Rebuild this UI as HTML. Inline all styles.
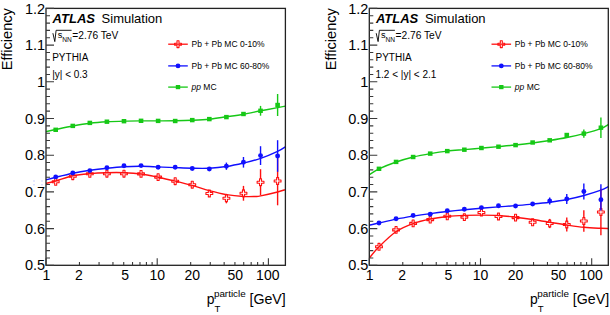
<!DOCTYPE html>
<html><head><meta charset="utf-8"><style>
html,body{margin:0;padding:0;background:#fff;width:610px;height:315px;overflow:hidden}
svg{display:block}
</style></head><body>
<svg width="610" height="315" viewBox="0 0 610 315">
<rect width="610" height="315" fill="#fff"/>
<g fill="#9aa6ff"><rect x="33.5" y="180.5" width="1" height="1"/><rect x="41.5" y="180.5" width="1" height="1"/><rect x="33.5" y="184.3" width="1" height="1"/><rect x="41.5" y="184.3" width="1" height="1"/></g>
<g transform="translate(0,0)">
<path d="M46.00,183.40 C47.62,183.00 51.22,182.27 55.70,181.00 C60.18,179.73 67.18,177.03 72.90,175.80 C78.62,174.57 84.30,174.12 90.00,173.60 C95.70,173.08 101.42,172.85 107.10,172.70 C112.78,172.55 118.42,172.48 124.10,172.70 C129.78,172.92 135.52,173.25 141.20,174.00 C146.88,174.75 152.53,176.02 158.20,177.20 C163.87,178.38 169.55,179.73 175.20,181.10 C180.85,182.47 186.42,183.82 192.10,185.40 C197.78,186.98 203.58,189.07 209.30,190.60 C215.02,192.13 220.68,193.62 226.40,194.60 C232.12,195.58 238.83,196.18 243.60,196.50 C248.37,196.82 252.15,196.60 255.00,196.50 C257.85,196.40 256.93,196.65 260.70,195.90 C264.47,195.15 273.48,193.05 277.60,192.00 C281.72,190.95 284.10,190.00 285.40,189.60" fill="none" stroke="#ff1010" stroke-width="1.4"/>
<path d="M46.00,179.90 C47.62,179.47 51.22,178.42 55.70,177.30 C60.18,176.18 67.18,174.37 72.90,173.20 C78.62,172.03 84.30,171.13 90.00,170.30 C95.70,169.47 101.42,168.80 107.10,168.20 C112.78,167.60 118.42,167.02 124.10,166.70 C129.78,166.38 135.52,166.27 141.20,166.30 C146.88,166.33 152.53,166.68 158.20,166.90 C163.87,167.12 169.55,167.38 175.20,167.60 C180.85,167.82 186.42,168.10 192.10,168.20 C197.78,168.30 203.58,168.48 209.30,168.20 C215.02,167.92 220.68,167.37 226.40,166.50 C232.12,165.63 237.88,164.35 243.60,163.00 C249.32,161.65 255.03,160.33 260.70,158.40 C266.37,156.47 273.48,153.33 277.60,151.40 C281.72,149.47 284.10,147.57 285.40,146.80" fill="none" stroke="#1010ff" stroke-width="1.4"/>
<path d="M46.00,131.60 C47.62,131.25 51.22,130.43 55.70,129.50 C60.18,128.57 67.18,127.03 72.90,126.00 C78.62,124.97 84.30,124.00 90.00,123.30 C95.70,122.60 101.42,122.17 107.10,121.80 C112.78,121.43 118.42,121.25 124.10,121.10 C129.78,120.95 135.52,120.93 141.20,120.90 C146.88,120.87 152.53,120.92 158.20,120.90 C163.87,120.88 169.55,120.90 175.20,120.80 C180.85,120.70 186.42,120.57 192.10,120.30 C197.78,120.03 203.58,119.78 209.30,119.20 C215.02,118.62 220.68,117.63 226.40,116.80 C232.12,115.97 237.88,115.20 243.60,114.20 C249.32,113.20 255.03,111.90 260.70,110.80 C266.37,109.70 273.48,108.38 277.60,107.60 C281.72,106.82 284.10,106.35 285.40,106.10" fill="none" stroke="#16c816" stroke-width="1.4"/>
<path d="M54.70,178.40H56.70V180.80H59.10V182.80H56.70V185.20H54.70V182.80H52.30V180.80H54.70Z" fill="none" stroke="#ff1010" stroke-width="1.1" stroke-linejoin="round"/>
<path d="M71.77,172.80H73.77V175.20H76.17V177.20H73.77V179.60H71.77V177.20H69.37V175.20H71.77Z" fill="none" stroke="#ff1010" stroke-width="1.1" stroke-linejoin="round"/>
<path d="M88.84,170.40H90.84V172.80H93.24V174.80H90.84V177.20H88.84V174.80H86.44V172.80H88.84Z" fill="none" stroke="#ff1010" stroke-width="1.1" stroke-linejoin="round"/>
<path d="M105.91,170.30H107.91V172.70H110.31V174.70H107.91V177.10H105.91V174.70H103.51V172.70H105.91Z" fill="none" stroke="#ff1010" stroke-width="1.1" stroke-linejoin="round"/>
<path d="M122.98,170.30H124.98V172.70H127.38V174.70H124.98V177.10H122.98V174.70H120.58V172.70H122.98Z" fill="none" stroke="#ff1010" stroke-width="1.1" stroke-linejoin="round"/>
<path d="M140.05,170.50H142.05V172.90H144.45V174.90H142.05V177.30H140.05V174.90H137.65V172.90H140.05Z" fill="none" stroke="#ff1010" stroke-width="1.1" stroke-linejoin="round"/>
<path d="M157.12,173.70H159.12V176.10H161.52V178.10H159.12V180.50H157.12V178.10H154.72V176.10H157.12Z" fill="none" stroke="#ff1010" stroke-width="1.1" stroke-linejoin="round"/>
<path d="M174.19,177.80H176.19V180.20H178.59V182.20H176.19V184.60H174.19V182.20H171.79V180.20H174.19Z" fill="none" stroke="#ff1010" stroke-width="1.1" stroke-linejoin="round"/>
<path d="M191.26,181.30H193.26V183.70H195.66V185.70H193.26V188.10H191.26V185.70H188.86V183.70H191.26Z" fill="none" stroke="#ff1010" stroke-width="1.1" stroke-linejoin="round"/>
<path d="M208.33,190.10H210.33V192.50H212.73V194.50H210.33V196.90H208.33V194.50H205.93V192.50H208.33Z" fill="none" stroke="#ff1010" stroke-width="1.1" stroke-linejoin="round"/>
<line x1="226.40" y1="193.80" x2="226.40" y2="195.20" stroke="#ff1010" stroke-width="1.4"/>
<line x1="226.40" y1="201.20" x2="226.40" y2="203.30" stroke="#ff1010" stroke-width="1.4"/>
<path d="M225.40,194.80H227.40V197.20H229.80V199.20H227.40V201.60H225.40V199.20H223.00V197.20H225.40Z" fill="none" stroke="#ff1010" stroke-width="1.1" stroke-linejoin="round"/>
<line x1="243.47" y1="185.90" x2="243.47" y2="190.30" stroke="#ff1010" stroke-width="1.4"/>
<line x1="243.47" y1="196.30" x2="243.47" y2="200.70" stroke="#ff1010" stroke-width="1.4"/>
<path d="M242.47,189.90H244.47V192.30H246.87V194.30H244.47V196.70H242.47V194.30H240.07V192.30H242.47Z" fill="none" stroke="#ff1010" stroke-width="1.1" stroke-linejoin="round"/>
<line x1="260.54" y1="169.20" x2="260.54" y2="179.20" stroke="#ff1010" stroke-width="1.4"/>
<line x1="260.54" y1="185.20" x2="260.54" y2="195.20" stroke="#ff1010" stroke-width="1.4"/>
<path d="M259.54,178.80H261.54V181.20H263.94V183.20H261.54V185.60H259.54V183.20H257.14V181.20H259.54Z" fill="none" stroke="#ff1010" stroke-width="1.1" stroke-linejoin="round"/>
<line x1="277.61" y1="156.70" x2="277.61" y2="178.00" stroke="#ff1010" stroke-width="1.4"/>
<line x1="277.61" y1="184.00" x2="277.61" y2="205.30" stroke="#ff1010" stroke-width="1.4"/>
<path d="M276.61,177.60H278.61V180.00H281.01V182.00H278.61V184.40H276.61V182.00H274.21V180.00H276.61Z" fill="none" stroke="#ff1010" stroke-width="1.1" stroke-linejoin="round"/>
<circle cx="55.70" cy="176.90" r="2.45" fill="#1010ff"/>
<circle cx="72.77" cy="173.00" r="2.45" fill="#1010ff"/>
<circle cx="89.84" cy="170.60" r="2.45" fill="#1010ff"/>
<circle cx="106.91" cy="167.80" r="2.45" fill="#1010ff"/>
<circle cx="123.98" cy="165.80" r="2.45" fill="#1010ff"/>
<circle cx="141.05" cy="165.60" r="2.45" fill="#1010ff"/>
<circle cx="158.12" cy="167.30" r="2.45" fill="#1010ff"/>
<circle cx="175.19" cy="167.20" r="2.45" fill="#1010ff"/>
<circle cx="192.26" cy="168.50" r="2.45" fill="#1010ff"/>
<line x1="209.33" y1="167.00" x2="209.33" y2="169.00" stroke="#1010ff" stroke-width="1.4"/>
<line x1="209.33" y1="169.00" x2="209.33" y2="171.00" stroke="#1010ff" stroke-width="1.4"/>
<circle cx="209.33" cy="169.00" r="2.45" fill="#1010ff"/>
<line x1="226.40" y1="162.60" x2="226.40" y2="166.20" stroke="#1010ff" stroke-width="1.4"/>
<line x1="226.40" y1="166.20" x2="226.40" y2="169.80" stroke="#1010ff" stroke-width="1.4"/>
<circle cx="226.40" cy="166.20" r="2.45" fill="#1010ff"/>
<line x1="243.47" y1="157.00" x2="243.47" y2="162.30" stroke="#1010ff" stroke-width="1.4"/>
<line x1="243.47" y1="162.30" x2="243.47" y2="167.60" stroke="#1010ff" stroke-width="1.4"/>
<circle cx="243.47" cy="162.30" r="2.45" fill="#1010ff"/>
<line x1="260.54" y1="146.20" x2="260.54" y2="155.60" stroke="#1010ff" stroke-width="1.4"/>
<line x1="260.54" y1="155.60" x2="260.54" y2="165.00" stroke="#1010ff" stroke-width="1.4"/>
<circle cx="260.54" cy="155.60" r="2.45" fill="#1010ff"/>
<line x1="277.61" y1="140.20" x2="277.61" y2="156.00" stroke="#1010ff" stroke-width="1.4"/>
<line x1="277.61" y1="156.00" x2="277.61" y2="171.80" stroke="#1010ff" stroke-width="1.4"/>
<circle cx="277.61" cy="156.00" r="2.45" fill="#1010ff"/>
<rect x="53.40" y="127.60" width="4.6" height="4.4" fill="#16c816"/>
<rect x="70.47" y="123.70" width="4.6" height="4.4" fill="#16c816"/>
<rect x="87.54" y="120.70" width="4.6" height="4.4" fill="#16c816"/>
<rect x="104.61" y="119.50" width="4.6" height="4.4" fill="#16c816"/>
<rect x="121.68" y="119.00" width="4.6" height="4.4" fill="#16c816"/>
<rect x="138.75" y="118.60" width="4.6" height="4.4" fill="#16c816"/>
<rect x="155.82" y="118.70" width="4.6" height="4.4" fill="#16c816"/>
<rect x="172.89" y="118.80" width="4.6" height="4.4" fill="#16c816"/>
<rect x="189.96" y="117.90" width="4.6" height="4.4" fill="#16c816"/>
<rect x="207.03" y="116.90" width="4.6" height="4.4" fill="#16c816"/>
<rect x="224.10" y="114.90" width="4.6" height="4.4" fill="#16c816"/>
<line x1="243.47" y1="112.00" x2="243.47" y2="114.00" stroke="#16c816" stroke-width="1.4"/>
<line x1="243.47" y1="114.00" x2="243.47" y2="116.00" stroke="#16c816" stroke-width="1.4"/>
<rect x="241.17" y="111.80" width="4.6" height="4.4" fill="#16c816"/>
<line x1="260.54" y1="105.90" x2="260.54" y2="110.80" stroke="#16c816" stroke-width="1.4"/>
<line x1="260.54" y1="110.80" x2="260.54" y2="115.70" stroke="#16c816" stroke-width="1.4"/>
<rect x="258.24" y="108.60" width="4.6" height="4.4" fill="#16c816"/>
<line x1="277.61" y1="94.00" x2="277.61" y2="105.00" stroke="#16c816" stroke-width="1.4"/>
<line x1="277.61" y1="105.00" x2="277.61" y2="116.00" stroke="#16c816" stroke-width="1.4"/>
<rect x="275.31" y="102.80" width="4.6" height="4.4" fill="#16c816"/>
<rect x="46.0" y="8.4" width="239.40" height="256.90" fill="none" stroke="#222" stroke-width="1.3"/>
<path d="M46.0,265.30h8 M46.0,257.96h4 M46.0,250.62h4 M46.0,243.28h4 M46.0,235.94h4 M46.0,228.60h8 M46.0,221.26h4 M46.0,213.92h4 M46.0,206.58h4 M46.0,199.24h4 M46.0,191.90h8 M46.0,184.56h4 M46.0,177.22h4 M46.0,169.88h4 M46.0,162.54h4 M46.0,155.20h8 M46.0,147.86h4 M46.0,140.52h4 M46.0,133.18h4 M46.0,125.84h4 M46.0,118.50h8 M46.0,111.16h4 M46.0,103.82h4 M46.0,96.48h4 M46.0,89.14h4 M46.0,81.80h8 M46.0,74.46h4 M46.0,67.12h4 M46.0,59.78h4 M46.0,52.44h4 M46.0,45.10h8 M46.0,37.76h4 M46.0,30.42h4 M46.0,23.08h4 M46.0,15.74h4 M46.0,8.40h8 M46.00,265.3v-7.0 M79.47,265.3v-3.4 M99.06,265.3v-3.4 M112.95,265.3v-3.4 M123.73,265.3v-3.4 M132.53,265.3v-3.4 M139.97,265.3v-3.4 M146.42,265.3v-3.4 M152.11,265.3v-3.4 M157.20,265.3v-7.0 M190.67,265.3v-3.4 M210.26,265.3v-3.4 M224.15,265.3v-3.4 M234.93,265.3v-3.4 M243.73,265.3v-3.4 M251.17,265.3v-3.4 M257.62,265.3v-3.4 M263.31,265.3v-3.4 M268.40,265.3v-7.0" stroke="#3a3a3a" stroke-width="1.1" fill="none"/>
<text x="45.1" y="270.40" font-size="14.5" text-anchor="end" font-family="'Liberation Sans', sans-serif">0.5</text>
<text x="45.1" y="233.70" font-size="14.5" text-anchor="end" font-family="'Liberation Sans', sans-serif">0.6</text>
<text x="45.1" y="197.00" font-size="14.5" text-anchor="end" font-family="'Liberation Sans', sans-serif">0.7</text>
<text x="45.1" y="160.30" font-size="14.5" text-anchor="end" font-family="'Liberation Sans', sans-serif">0.8</text>
<text x="45.1" y="123.60" font-size="14.5" text-anchor="end" font-family="'Liberation Sans', sans-serif">0.9</text>
<text x="45.1" y="86.90" font-size="14.5" text-anchor="end" font-family="'Liberation Sans', sans-serif">1</text>
<text x="45.1" y="50.20" font-size="14.5" text-anchor="end" font-family="'Liberation Sans', sans-serif">1.1</text>
<text x="45.1" y="13.50" font-size="14.5" text-anchor="end" font-family="'Liberation Sans', sans-serif">1.2</text>
<text x="46.40" y="280" font-size="14" text-anchor="middle" font-family="'Liberation Sans', sans-serif">1</text>
<text x="78.87" y="280" font-size="14" text-anchor="middle" font-family="'Liberation Sans', sans-serif">2</text>
<text x="125.03" y="280" font-size="14" text-anchor="middle" font-family="'Liberation Sans', sans-serif">5</text>
<text x="157.20" y="280" font-size="14" text-anchor="middle" font-family="'Liberation Sans', sans-serif">10</text>
<text x="192.17" y="280" font-size="14" text-anchor="middle" font-family="'Liberation Sans', sans-serif">20</text>
<text x="235.23" y="280" font-size="14" text-anchor="middle" font-family="'Liberation Sans', sans-serif">50</text>
<text x="267.80" y="280" font-size="14" text-anchor="middle" font-family="'Liberation Sans', sans-serif">100</text>
<text transform="translate(12.2,70.3) rotate(-90)" font-size="14.6" font-family="'Liberation Sans', sans-serif">Efficiency</text>
<text x="206.8" y="303.9" font-size="13.9" font-family="'Liberation Sans', sans-serif">p</text>
<text x="213.9" y="297.2" font-size="9.9" font-family="'Liberation Sans', sans-serif">particle</text>
<text x="214.5" y="311.9" font-size="9.6" font-family="'Liberation Sans', sans-serif">T</text>
<text x="249.5" y="304.1" font-size="14.2" font-family="'Liberation Sans', sans-serif">[GeV]</text>
<text x="52.6" y="23.3" font-size="13" font-weight="bold" font-style="italic" font-family="'Liberation Sans', sans-serif">ATLAS</text>
<text x="101.6" y="23.4" font-size="13" font-family="'Liberation Sans', sans-serif">Simulation</text>
<path d="M52.9,33.2 L54.8,41.6 L56.1,30.3 H71.6" fill="none" stroke="#000" stroke-width="0.9"/>
<text x="57.8" y="38.3" font-size="9.2" font-family="'Liberation Sans', sans-serif">s</text>
<text x="62.2" y="41.6" font-size="6.6" font-family="'Liberation Sans', sans-serif">NN</text>
<text x="72.3" y="39.4" font-size="10.2" font-family="'Liberation Sans', sans-serif">=2.76 TeV</text>
<text x="52.2" y="60.8" font-size="10" font-family="'Liberation Sans', sans-serif">PYTHIA</text>
<text x="52.2" y="77.6" font-size="10" font-family="'Liberation Sans', sans-serif">|y| &lt; 0.3</text>
<line x1="168.2" y1="44.2" x2="187.8" y2="44.2" stroke="#ff1010" stroke-width="1.3"/>
<path d="M177.00,40.80H179.00V43.20H181.40V45.20H179.00V47.60H177.00V45.20H174.60V43.20H177.00Z" fill="none" stroke="#ff1010" stroke-width="1.1" stroke-linejoin="round"/>
<text x="191.5" y="47.20" font-size="8.5" font-family="'Liberation Sans', sans-serif">Pb + Pb MC 0-10%</text>
<line x1="168.2" y1="65.9" x2="187.8" y2="65.9" stroke="#1010ff" stroke-width="1.3"/>
<circle cx="178.0" cy="65.9" r="2.4" fill="#1010ff"/>
<text x="191.5" y="68.90" font-size="8.5" font-family="'Liberation Sans', sans-serif">Pb + Pb MC 60-80%</text>
<line x1="168.2" y1="87.1" x2="187.8" y2="87.1" stroke="#16c816" stroke-width="1.3"/>
<rect x="175.8" y="85.0" width="4.4" height="4.2" fill="#16c816"/>
<text x="191.5" y="90.10" font-size="8.5" font-family="'Liberation Sans', sans-serif"><tspan font-style="italic">pp</tspan> MC</text>
</g>
<g transform="translate(323.3,0)">
<path d="M46.00,258.00 C47.62,256.13 51.22,251.22 55.70,246.80 C60.18,242.38 67.18,235.38 72.90,231.50 C78.62,227.62 84.30,225.58 90.00,223.50 C95.70,221.42 101.42,220.17 107.10,219.00 C112.78,217.83 118.42,217.10 124.10,216.50 C129.78,215.90 135.52,215.63 141.20,215.40 C146.88,215.17 152.53,215.08 158.20,215.10 C163.87,215.12 169.55,215.15 175.20,215.50 C180.85,215.85 186.42,216.53 192.10,217.20 C197.78,217.87 203.58,218.67 209.30,219.50 C215.02,220.33 220.68,221.28 226.40,222.20 C232.12,223.12 237.88,224.15 243.60,225.00 C249.32,225.85 255.03,226.75 260.70,227.30 C266.37,227.85 273.48,228.10 277.60,228.30 C281.72,228.50 284.10,228.47 285.40,228.50" fill="none" stroke="#ff1010" stroke-width="1.4"/>
<path d="M46.00,225.30 C47.62,224.92 51.22,224.03 55.70,223.00 C60.18,221.97 67.18,220.25 72.90,219.10 C78.62,217.95 84.30,217.02 90.00,216.10 C95.70,215.18 101.42,214.37 107.10,213.60 C112.78,212.83 118.42,212.15 124.10,211.50 C129.78,210.85 135.52,210.25 141.20,209.70 C146.88,209.15 152.53,208.67 158.20,208.20 C163.87,207.73 169.55,207.33 175.20,206.90 C180.85,206.47 186.42,206.07 192.10,205.60 C197.78,205.13 203.58,204.67 209.30,204.10 C215.02,203.53 220.68,202.97 226.40,202.20 C232.12,201.43 237.88,200.62 243.60,199.50 C249.32,198.38 255.03,197.05 260.70,195.50 C266.37,193.95 273.48,191.70 277.60,190.20 C281.72,188.70 284.10,187.12 285.40,186.50" fill="none" stroke="#1010ff" stroke-width="1.4"/>
<path d="M46.00,174.70 C47.62,173.73 51.22,171.02 55.70,168.90 C60.18,166.78 67.18,163.98 72.90,162.00 C78.62,160.02 84.30,158.40 90.00,157.00 C95.70,155.60 101.42,154.58 107.10,153.60 C112.78,152.62 118.42,151.77 124.10,151.10 C129.78,150.43 135.52,150.10 141.20,149.60 C146.88,149.10 152.53,148.60 158.20,148.10 C163.87,147.60 169.55,147.12 175.20,146.60 C180.85,146.08 186.42,145.60 192.10,145.00 C197.78,144.40 203.58,143.75 209.30,143.00 C215.02,142.25 220.68,141.42 226.40,140.50 C232.12,139.58 237.88,138.65 243.60,137.50 C249.32,136.35 255.03,135.08 260.70,133.60 C266.37,132.12 273.48,130.15 277.60,128.60 C281.72,127.05 284.10,125.02 285.40,124.30" fill="none" stroke="#16c816" stroke-width="1.4"/>
<path d="M54.70,243.40H56.70V245.80H59.10V247.80H56.70V250.20H54.70V247.80H52.30V245.80H54.70Z" fill="none" stroke="#ff1010" stroke-width="1.1" stroke-linejoin="round"/>
<path d="M71.77,226.50H73.77V228.90H76.17V230.90H73.77V233.30H71.77V230.90H69.37V228.90H71.77Z" fill="none" stroke="#ff1010" stroke-width="1.1" stroke-linejoin="round"/>
<path d="M88.84,220.00H90.84V222.40H93.24V224.40H90.84V226.80H88.84V224.40H86.44V222.40H88.84Z" fill="none" stroke="#ff1010" stroke-width="1.1" stroke-linejoin="round"/>
<path d="M105.91,216.20H107.91V218.60H110.31V220.60H107.91V223.00H105.91V220.60H103.51V218.60H105.91Z" fill="none" stroke="#ff1010" stroke-width="1.1" stroke-linejoin="round"/>
<path d="M122.98,212.90H124.98V215.30H127.38V217.30H124.98V219.70H122.98V217.30H120.58V215.30H122.98Z" fill="none" stroke="#ff1010" stroke-width="1.1" stroke-linejoin="round"/>
<path d="M140.05,213.70H142.05V216.10H144.45V218.10H142.05V220.50H140.05V218.10H137.65V216.10H140.05Z" fill="none" stroke="#ff1010" stroke-width="1.1" stroke-linejoin="round"/>
<path d="M157.12,209.10H159.12V211.50H161.52V213.50H159.12V215.90H157.12V213.50H154.72V211.50H157.12Z" fill="none" stroke="#ff1010" stroke-width="1.1" stroke-linejoin="round"/>
<path d="M174.19,213.10H176.19V215.50H178.59V217.50H176.19V219.90H174.19V217.50H171.79V215.50H174.19Z" fill="none" stroke="#ff1010" stroke-width="1.1" stroke-linejoin="round"/>
<path d="M191.26,214.20H193.26V216.60H195.66V218.60H193.26V221.00H191.26V218.60H188.86V216.60H191.26Z" fill="none" stroke="#ff1010" stroke-width="1.1" stroke-linejoin="round"/>
<path d="M208.33,218.90H210.33V221.30H212.73V223.30H210.33V225.70H208.33V223.30H205.93V221.30H208.33Z" fill="none" stroke="#ff1010" stroke-width="1.1" stroke-linejoin="round"/>
<line x1="226.40" y1="218.90" x2="226.40" y2="220.50" stroke="#ff1010" stroke-width="1.4"/>
<line x1="226.40" y1="226.50" x2="226.40" y2="228.10" stroke="#ff1010" stroke-width="1.4"/>
<path d="M225.40,220.10H227.40V222.50H229.80V224.50H227.40V226.90H225.40V224.50H223.00V222.50H225.40Z" fill="none" stroke="#ff1010" stroke-width="1.1" stroke-linejoin="round"/>
<line x1="243.47" y1="217.60" x2="243.47" y2="221.50" stroke="#ff1010" stroke-width="1.4"/>
<line x1="243.47" y1="227.50" x2="243.47" y2="231.40" stroke="#ff1010" stroke-width="1.4"/>
<path d="M242.47,221.10H244.47V223.50H246.87V225.50H244.47V227.90H242.47V225.50H240.07V223.50H242.47Z" fill="none" stroke="#ff1010" stroke-width="1.1" stroke-linejoin="round"/>
<line x1="260.54" y1="210.20" x2="260.54" y2="218.00" stroke="#ff1010" stroke-width="1.4"/>
<line x1="260.54" y1="224.00" x2="260.54" y2="231.80" stroke="#ff1010" stroke-width="1.4"/>
<path d="M259.54,217.60H261.54V220.00H263.94V222.00H261.54V224.40H259.54V222.00H257.14V220.00H259.54Z" fill="none" stroke="#ff1010" stroke-width="1.1" stroke-linejoin="round"/>
<line x1="277.61" y1="188.80" x2="277.61" y2="209.00" stroke="#ff1010" stroke-width="1.4"/>
<line x1="277.61" y1="215.00" x2="277.61" y2="235.20" stroke="#ff1010" stroke-width="1.4"/>
<path d="M276.61,208.60H278.61V211.00H281.01V213.00H278.61V215.40H276.61V213.00H274.21V211.00H276.61Z" fill="none" stroke="#ff1010" stroke-width="1.1" stroke-linejoin="round"/>
<circle cx="55.70" cy="223.00" r="2.45" fill="#1010ff"/>
<circle cx="72.77" cy="218.80" r="2.45" fill="#1010ff"/>
<circle cx="89.84" cy="215.50" r="2.45" fill="#1010ff"/>
<circle cx="106.91" cy="214.20" r="2.45" fill="#1010ff"/>
<circle cx="123.98" cy="210.80" r="2.45" fill="#1010ff"/>
<circle cx="141.05" cy="209.30" r="2.45" fill="#1010ff"/>
<circle cx="158.12" cy="207.60" r="2.45" fill="#1010ff"/>
<circle cx="175.19" cy="205.80" r="2.45" fill="#1010ff"/>
<circle cx="192.26" cy="206.00" r="2.45" fill="#1010ff"/>
<circle cx="209.33" cy="204.00" r="2.45" fill="#1010ff"/>
<line x1="226.40" y1="197.50" x2="226.40" y2="201.00" stroke="#1010ff" stroke-width="1.4"/>
<line x1="226.40" y1="201.00" x2="226.40" y2="204.50" stroke="#1010ff" stroke-width="1.4"/>
<circle cx="226.40" cy="201.00" r="2.45" fill="#1010ff"/>
<line x1="243.47" y1="194.00" x2="243.47" y2="199.00" stroke="#1010ff" stroke-width="1.4"/>
<line x1="243.47" y1="199.00" x2="243.47" y2="204.00" stroke="#1010ff" stroke-width="1.4"/>
<circle cx="243.47" cy="199.00" r="2.45" fill="#1010ff"/>
<line x1="260.54" y1="183.50" x2="260.54" y2="191.50" stroke="#1010ff" stroke-width="1.4"/>
<line x1="260.54" y1="191.50" x2="260.54" y2="199.50" stroke="#1010ff" stroke-width="1.4"/>
<circle cx="260.54" cy="191.50" r="2.45" fill="#1010ff"/>
<line x1="277.61" y1="184.30" x2="277.61" y2="199.70" stroke="#1010ff" stroke-width="1.4"/>
<line x1="277.61" y1="199.70" x2="277.61" y2="210.60" stroke="#1010ff" stroke-width="1.4"/>
<circle cx="277.61" cy="199.70" r="2.45" fill="#1010ff"/>
<rect x="53.40" y="166.60" width="4.6" height="4.4" fill="#16c816"/>
<rect x="70.47" y="159.70" width="4.6" height="4.4" fill="#16c816"/>
<rect x="87.54" y="154.80" width="4.6" height="4.4" fill="#16c816"/>
<rect x="104.61" y="151.40" width="4.6" height="4.4" fill="#16c816"/>
<rect x="121.68" y="148.90" width="4.6" height="4.4" fill="#16c816"/>
<rect x="138.75" y="147.50" width="4.6" height="4.4" fill="#16c816"/>
<rect x="155.82" y="145.80" width="4.6" height="4.4" fill="#16c816"/>
<rect x="172.89" y="144.50" width="4.6" height="4.4" fill="#16c816"/>
<rect x="189.96" y="142.90" width="4.6" height="4.4" fill="#16c816"/>
<rect x="207.03" y="140.30" width="4.6" height="4.4" fill="#16c816"/>
<rect x="224.10" y="138.10" width="4.6" height="4.4" fill="#16c816"/>
<line x1="243.47" y1="133.50" x2="243.47" y2="135.00" stroke="#16c816" stroke-width="1.4"/>
<line x1="243.47" y1="135.00" x2="243.47" y2="136.50" stroke="#16c816" stroke-width="1.4"/>
<rect x="241.17" y="132.80" width="4.6" height="4.4" fill="#16c816"/>
<line x1="260.54" y1="129.50" x2="260.54" y2="133.60" stroke="#16c816" stroke-width="1.4"/>
<line x1="260.54" y1="133.60" x2="260.54" y2="137.70" stroke="#16c816" stroke-width="1.4"/>
<rect x="258.24" y="131.40" width="4.6" height="4.4" fill="#16c816"/>
<line x1="277.61" y1="117.50" x2="277.61" y2="127.70" stroke="#16c816" stroke-width="1.4"/>
<line x1="277.61" y1="127.70" x2="277.61" y2="137.90" stroke="#16c816" stroke-width="1.4"/>
<rect x="275.31" y="125.50" width="4.6" height="4.4" fill="#16c816"/>
<rect x="46.0" y="8.4" width="239.00" height="256.90" fill="none" stroke="#222" stroke-width="1.3"/>
<path d="M46.0,265.30h8 M46.0,257.96h4 M46.0,250.62h4 M46.0,243.28h4 M46.0,235.94h4 M46.0,228.60h8 M46.0,221.26h4 M46.0,213.92h4 M46.0,206.58h4 M46.0,199.24h4 M46.0,191.90h8 M46.0,184.56h4 M46.0,177.22h4 M46.0,169.88h4 M46.0,162.54h4 M46.0,155.20h8 M46.0,147.86h4 M46.0,140.52h4 M46.0,133.18h4 M46.0,125.84h4 M46.0,118.50h8 M46.0,111.16h4 M46.0,103.82h4 M46.0,96.48h4 M46.0,89.14h4 M46.0,81.80h8 M46.0,74.46h4 M46.0,67.12h4 M46.0,59.78h4 M46.0,52.44h4 M46.0,45.10h8 M46.0,37.76h4 M46.0,30.42h4 M46.0,23.08h4 M46.0,15.74h4 M46.0,8.40h8 M46.00,265.3v-7.0 M79.47,265.3v-3.4 M99.06,265.3v-3.4 M112.95,265.3v-3.4 M123.73,265.3v-3.4 M132.53,265.3v-3.4 M139.97,265.3v-3.4 M146.42,265.3v-3.4 M152.11,265.3v-3.4 M157.20,265.3v-7.0 M190.67,265.3v-3.4 M210.26,265.3v-3.4 M224.15,265.3v-3.4 M234.93,265.3v-3.4 M243.73,265.3v-3.4 M251.17,265.3v-3.4 M257.62,265.3v-3.4 M263.31,265.3v-3.4 M268.40,265.3v-7.0" stroke="#3a3a3a" stroke-width="1.1" fill="none"/>
<text x="45.1" y="270.40" font-size="14.5" text-anchor="end" font-family="'Liberation Sans', sans-serif">0.5</text>
<text x="45.1" y="233.70" font-size="14.5" text-anchor="end" font-family="'Liberation Sans', sans-serif">0.6</text>
<text x="45.1" y="197.00" font-size="14.5" text-anchor="end" font-family="'Liberation Sans', sans-serif">0.7</text>
<text x="45.1" y="160.30" font-size="14.5" text-anchor="end" font-family="'Liberation Sans', sans-serif">0.8</text>
<text x="45.1" y="123.60" font-size="14.5" text-anchor="end" font-family="'Liberation Sans', sans-serif">0.9</text>
<text x="45.1" y="86.90" font-size="14.5" text-anchor="end" font-family="'Liberation Sans', sans-serif">1</text>
<text x="45.1" y="50.20" font-size="14.5" text-anchor="end" font-family="'Liberation Sans', sans-serif">1.1</text>
<text x="45.1" y="13.50" font-size="14.5" text-anchor="end" font-family="'Liberation Sans', sans-serif">1.2</text>
<text x="46.40" y="280" font-size="14" text-anchor="middle" font-family="'Liberation Sans', sans-serif">1</text>
<text x="78.87" y="280" font-size="14" text-anchor="middle" font-family="'Liberation Sans', sans-serif">2</text>
<text x="125.03" y="280" font-size="14" text-anchor="middle" font-family="'Liberation Sans', sans-serif">5</text>
<text x="157.20" y="280" font-size="14" text-anchor="middle" font-family="'Liberation Sans', sans-serif">10</text>
<text x="192.17" y="280" font-size="14" text-anchor="middle" font-family="'Liberation Sans', sans-serif">20</text>
<text x="235.23" y="280" font-size="14" text-anchor="middle" font-family="'Liberation Sans', sans-serif">50</text>
<text x="267.80" y="280" font-size="14" text-anchor="middle" font-family="'Liberation Sans', sans-serif">100</text>
<text transform="translate(12.2,70.3) rotate(-90)" font-size="14.6" font-family="'Liberation Sans', sans-serif">Efficiency</text>
<text x="206.8" y="303.9" font-size="13.9" font-family="'Liberation Sans', sans-serif">p</text>
<text x="213.9" y="297.2" font-size="9.9" font-family="'Liberation Sans', sans-serif">particle</text>
<text x="214.5" y="311.9" font-size="9.6" font-family="'Liberation Sans', sans-serif">T</text>
<text x="249.5" y="304.1" font-size="14.2" font-family="'Liberation Sans', sans-serif">[GeV]</text>
<text x="52.6" y="23.3" font-size="13" font-weight="bold" font-style="italic" font-family="'Liberation Sans', sans-serif">ATLAS</text>
<text x="101.6" y="23.4" font-size="13" font-family="'Liberation Sans', sans-serif">Simulation</text>
<path d="M52.9,33.2 L54.8,41.6 L56.1,30.3 H71.6" fill="none" stroke="#000" stroke-width="0.9"/>
<text x="57.8" y="38.3" font-size="9.2" font-family="'Liberation Sans', sans-serif">s</text>
<text x="62.2" y="41.6" font-size="6.6" font-family="'Liberation Sans', sans-serif">NN</text>
<text x="72.3" y="39.4" font-size="10.2" font-family="'Liberation Sans', sans-serif">=2.76 TeV</text>
<text x="52.2" y="60.8" font-size="10" font-family="'Liberation Sans', sans-serif">PYTHIA</text>
<text x="52.2" y="77.6" font-size="10" font-family="'Liberation Sans', sans-serif">1.2 &lt; |y| &lt; 2.1</text>
<line x1="168.2" y1="44.2" x2="187.8" y2="44.2" stroke="#ff1010" stroke-width="1.3"/>
<path d="M177.00,40.80H179.00V43.20H181.40V45.20H179.00V47.60H177.00V45.20H174.60V43.20H177.00Z" fill="none" stroke="#ff1010" stroke-width="1.1" stroke-linejoin="round"/>
<text x="191.5" y="47.20" font-size="8.5" font-family="'Liberation Sans', sans-serif">Pb + Pb MC 0-10%</text>
<line x1="168.2" y1="65.9" x2="187.8" y2="65.9" stroke="#1010ff" stroke-width="1.3"/>
<circle cx="178.0" cy="65.9" r="2.4" fill="#1010ff"/>
<text x="191.5" y="68.90" font-size="8.5" font-family="'Liberation Sans', sans-serif">Pb + Pb MC 60-80%</text>
<line x1="168.2" y1="87.1" x2="187.8" y2="87.1" stroke="#16c816" stroke-width="1.3"/>
<rect x="175.8" y="85.0" width="4.4" height="4.2" fill="#16c816"/>
<text x="191.5" y="90.10" font-size="8.5" font-family="'Liberation Sans', sans-serif"><tspan font-style="italic">pp</tspan> MC</text>
</g>
</svg>
</body></html>
